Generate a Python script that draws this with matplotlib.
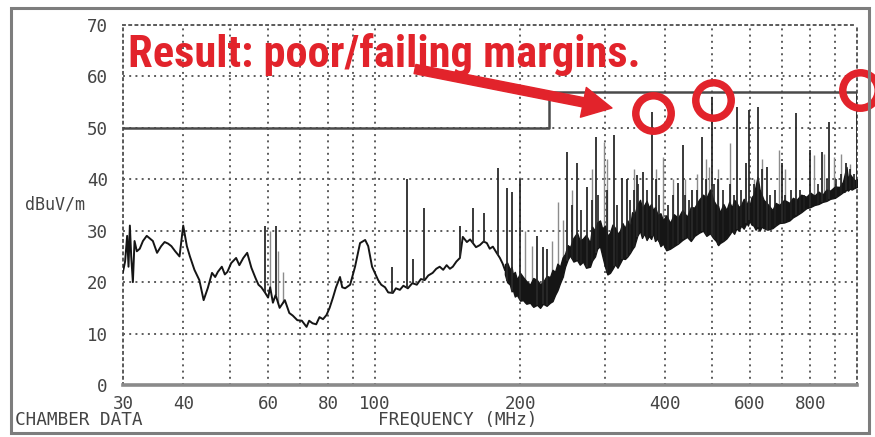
import numpy as np
import matplotlib
matplotlib.use("Agg")
import matplotlib.pyplot as plt
from matplotlib.patches import Rectangle
from matplotlib import font_manager

# ---- measured emission floor, 30-186 MHz (MHz, dBuV/m) ----
floor_mhz = [30.0, 30.3, 30.6, 30.8, 31.0, 31.2, 31.45, 31.7, 32.05, 32.5, 33.0, 33.6, 34.1, 34.6,
             35.3, 36.0, 36.6, 37.2, 37.8, 38.5, 39.3, 40.0, 40.7, 41.3, 42.2, 43.2, 44.1, 45.0,
             45.9, 46.6, 47.2, 48.1, 48.8, 49.4, 50.3, 51.5, 52.3, 53.3, 54.3, 55.4, 56.5, 57.3,
             58.1, 59.1, 60.0, 60.6, 61.4, 62.2, 63.4, 65.0, 66.4, 67.5, 69.0, 70.5, 72.1, 73.0,
             74.2, 75.5, 76.7, 78.0, 79.3, 80.5, 81.8, 83.0, 84.6, 85.5, 86.7, 88.8, 90.9, 93.1,
             95.4, 96.8, 98.6, 101.5, 103.0, 104.9, 106.5, 108.9, 110.5, 112.6, 114.5, 117.0,
             119.5, 122.1, 124.5, 126.8, 129.0, 131.7, 134.0, 136.2, 138.5, 140.8, 143.0, 145.0,
             147.5, 150.0, 152.1, 155.1, 157.5, 159.6, 162.0, 165.0, 168.0, 170.6, 173.0, 175.6,
             178.5, 181.6, 184.0, 186.0]
floor_db = [22, 24, 29, 23, 31, 25, 20, 28, 26, 26.5, 28, 29, 28.5, 28,
            25.7, 27, 27.8, 27.5, 27, 26, 25, 31, 27, 25, 22.4, 20.4, 16.5, 18.9,
            21.8, 21, 22, 23, 21.5, 22, 23.7, 24.7, 23.3, 24.7, 25.7, 22.8, 20.8, 19.5,
            19, 18, 17, 19, 16, 17.5, 15, 16.5, 14, 13.5, 12.6, 12.5, 11.3, 12.5,
            12, 11.8, 13.2, 12.8, 13.6, 15, 17, 19, 21, 19, 18.8, 19.5, 23, 27.6,
            28.2, 27, 23, 20.4, 19.5, 19, 18, 17.9, 18.8, 18.5, 19.3, 18.8,
            19.8, 19.5, 20.6, 20.4, 21.3, 21.8, 22.6, 23, 22.4, 23.3, 22.6, 23,
            24, 24.7, 28.8, 27.8, 28.3, 27.6, 26.8, 27.2, 27.9, 27.6, 26.5, 26.9,
            25.8, 24.7, 23.6, 22.4]

# ---- dense emission band, 186-1000 MHz: lower / upper edge of the trace ----
band_mhz = [186, 188, 190.5, 192, 193.2, 195, 197, 200, 202.8, 206, 209.7, 213, 216.8, 220,
            223.1, 227, 230.7, 233.5, 236.3, 239, 242, 245, 247.9, 251, 253.9, 258, 262.5,
            266, 270.1, 274, 279.3, 282, 286, 289, 292.9, 296, 300, 303.5, 307.2, 311, 315,
            318.5, 322.3, 326, 330, 334, 338.1, 341.5, 345, 350, 354.7, 358, 362, 366, 370,
            374, 377.4, 381, 386, 391, 395.8, 402, 409.4, 417, 425.3, 434, 444, 452, 460, 470,
            479.3, 487, 495.6, 503, 510, 515, 519.5, 528, 536, 543, 550, 556, 562.2, 568, 575,
            582, 589.7, 594, 598.3, 604, 610, 616, 621.7, 628, 634, 640, 652, 667.7, 678, 690,
            706, 724.1, 736, 748.8, 766, 785.4, 800, 816, 832, 847.9, 864, 880, 900, 919.7,
            935, 943, 950.9, 958, 966, 975, 987, 1000]
band_lo = [21.5, 20.0, 19.5, 18.2, 18.5, 17.2, 17.5, 16.4, 16.5, 15.8, 16.0, 15.2, 15.6, 15.0,
           15.8, 15.4, 16.0, 16.3, 17.5, 18.4, 19.8, 21.0, 23.0, 24.4, 25.2, 24.0, 24.3,
           23.4, 24.0, 22.8, 23.0, 24.2, 25.0, 26.5, 27.0, 25.2, 23.0, 21.5, 21.8, 22.6, 23.5,
           22.8, 23.7, 24.6, 24.5, 25.0, 25.7, 26.4, 27.0, 29.0, 30.0, 28.6, 29.5, 28.2, 29.0,
           28.4, 29.6, 28.0, 28.5, 27.0, 27.5, 26.2, 26.5, 27.0, 27.5, 28.2, 28.8, 28.0, 29.0, 29.6,
           30.0, 29.0, 29.5, 28.6, 28.0, 27.2, 27.6, 28.0, 28.5, 29.2, 30.0, 29.4, 30.5, 30.0, 31.0,
           30.4, 31.5, 31.0, 32.0, 31.2, 31.0, 30.2, 30.7, 30.0, 30.8, 30.5, 30.2, 30.5, 31.0, 31.5,
           31.6, 32.0, 32.6, 33.0, 33.6, 34.4, 34.6, 35.0, 35.2, 35.6, 35.8, 36.2, 36.4, 37.0,
           37.5, 37.6, 38.0, 37.8, 38.2, 38.0, 38.3, 38.5]
band_hi = [23.5, 23.8, 22.4, 23.0, 21.5, 22.0, 20.5, 21.8, 21.0, 20.2, 19.5, 20.8, 20.4, 19.6,
           20.0, 21.2, 21.0, 22.4, 22.0, 23.6, 23.0, 24.8, 25.5, 27.2, 26.8, 28.6, 29.6,
           28.0, 28.5, 29.2, 27.6, 30.8, 30.0, 31.6, 32.0, 30.4, 31.0, 29.0, 29.6, 31.2, 30.5,
           29.4, 30.0, 31.5, 30.5, 32.0, 30.7, 33.6, 33.0, 35.0, 36.0, 34.4, 35.0, 35.8, 34.5,
           35.2, 34.0, 34.6, 33.0, 33.4, 32.0, 33.0, 31.5, 33.2, 32.5, 34.0, 32.7, 34.6, 34.5, 36.0,
           37.0, 36.4, 38.0, 36.0, 35.0, 34.8, 33.5, 35.2, 34.0, 35.6, 34.5, 36.0, 35.5, 34.6, 35.0,
           36.2, 35.0, 35.8, 34.6, 36.5, 37.0, 38.6, 40.5, 38.0, 37.0, 36.0, 35.2, 34.0, 35.4, 35.0,
           36.0, 35.4, 36.4, 36.0, 37.0, 36.6, 37.4, 36.8, 37.6, 37.0, 38.0, 37.8, 38.6, 38.5,
           39.5, 41.0, 42.4, 40.0, 41.0, 40.5, 39.8, 40.0]

# ---- narrowband peaks (MHz, peak dBuV/m) ----
peak_mhz = [59.1, 62.2, 108.4, 116.4, 119.8, 126.2, 150.0, 159.6, 168.2, 179.9, 187.8, 192.3,
            199.9, 216.8, 223.1, 227.4, 250.3, 262.5, 275.3, 287.4, 313.2, 325.4, 333.3, 349.6,
            359.8, 375.6, 425.3, 435.6, 454.8, 477.0, 500.0, 564.9, 589.7, 598.3, 621.7, 651.9,
            700.3, 748.8, 800.0, 847.9, 876.7, 950.9, 1000.0]
peak_db = [31, 31, 23, 40, 24.5, 34.4, 31, 34.4, 33.5, 42.2, 38.3, 37.5,
           40, 29, 26.8, 26.5, 45.3, 43.2, 38.5, 48.2, 48.6, 40.3, 40, 40.9,
           41.4, 53.1, 39.3, 46.7, 38, 48.2, 56, 54.1, 43.2, 53.5, 54, 42.4,
           43.2, 52.9, 45.7, 45.3, 51.2, 43.2, 57]

# clustered emissions forming the dark mass above 250 MHz
cluster_mhz = [256, 268, 282, 290, 303, 318, 338, 344, 352, 366, 382, 388, 405, 415, 440, 448,
               465, 485, 505, 515, 528, 545, 555, 575, 610, 635, 660, 675, 710, 730, 760, 775,
               830, 865, 905, 925, 965, 985]
cluster_db = [35, 34, 36, 37, 38, 35, 36, 38, 39, 38, 40, 37, 35, 37, 37, 36,
              38, 40, 39, 40, 38, 39, 37, 38, 39, 42, 37, 38, 37, 38, 38, 37,
              39, 40, 40, 41, 42, 41]

# weaker, lighter-drawn emissions
faint_mhz = [60.6, 63.0, 64.5, 205, 212, 233, 239.7, 245, 256, 282, 298, 303, 344, 382, 395.8,
             415, 440, 465, 485, 493.2, 515, 545, 610, 635, 690.4, 710, 816.1, 856, 898, 925, 965]
faint_db = [30, 26, 22, 30, 27, 28, 35.6, 32, 38, 42, 47.3, 44, 42, 42, 44.4,
            40, 40, 41, 44, 42.4, 42, 47, 40, 44, 45.7, 42, 44.7, 45, 44.4, 45, 43]

# ---- limit line ----
limit_mhz = [30, 230, 230, 1000]
limit_db = [50, 50, 57, 57]

# ---- circled failing peaks ----
circle_mhz = [377, 502, 1014]
circle_db = [52.9, 55.4, 57.4]

# ---- axes ticks ----
y_ticks = [0, 10, 20, 30, 40, 50, 60, 70]
y_labels = ["0", "10", "20", "30", "40", "50", "60", "70"]
x_grid = [30, 40, 50, 60, 70, 80, 90, 100, 200, 300, 400, 500, 600, 700, 800, 900, 1000]
x_labels = ["30", "40", "", "60", "", "80", "", "100", "200", "", "400", "", "600", "", "800", "", ""]

RED = "#e2232b"
GRID = "#5c5c5c"
INK = "#151515"
TXT = "#444444"
W, H = 875, 437

# prefer a condensed bold face for the callout
installed = {f.name for f in font_manager.fontManager.ttflist}
narrow = [n for n in ("Roboto Condensed", "Liberation Sans Narrow", "Open Sans Condensed",
                      "Arial Narrow") if n in installed]
callout_family = narrow[0] if narrow else "Liberation Sans"

fig = plt.figure(figsize=(W / 100, H / 100), dpi=100)
fig.patch.set_facecolor("white")
ax = fig.add_axes([123 / W, 1 - 385 / H, (857 - 123) / W, (385 - 25) / H])

ax.set_xscale("log")
ax.set_xlim(30, 1000)
ax.set_ylim(0, 70)

dots = (0, (1, 2.2))
ax.minorticks_off()
ax.set_xticks(x_grid)
ax.set_xticklabels(x_labels)
ax.set_yticks(y_ticks)
ax.set_yticklabels(y_labels)
ax.grid(True, which="major", linestyle=dots, color=GRID, linewidth=1.4)
ax.tick_params(axis="both", length=0, labelsize=12.6, labelcolor=TXT)
ax.tick_params(axis="y", pad=11)
ax.tick_params(axis="x", pad=7)
for lab in ax.get_xticklabels() + ax.get_yticklabels():
    lab.set_family("DejaVu Sans Mono")

for side in ("left", "top", "right"):
    ax.spines[side].set_linestyle(dots)
    ax.spines[side].set_color(GRID)
    ax.spines[side].set_linewidth(1.4)
ax.spines["bottom"].set_color("#8a8a8a")
ax.spines["bottom"].set_linewidth(2.6)

# emission trace
lf = np.log10(floor_mhz)
lb = np.log10(band_mhz)
ax.plot(floor_mhz, floor_db, color=INK, lw=1.4, zorder=3)
ax.fill_between(band_mhz, band_lo, band_hi, color=INK, lw=1.0, edgecolor=INK, zorder=3)

# foot of each peak sits on the trace floor
prof_x = np.concatenate([lf, lb[1:]])
prof_y = np.concatenate([floor_db, band_lo[1:]])


def foot(freqs):
    return np.interp(np.log10(freqs), prof_x, prof_y)


ax.vlines(faint_mhz, foot(faint_mhz), faint_db, color="#8c8c8c", lw=1.0, zorder=2)
ax.vlines(cluster_mhz, foot(cluster_mhz), cluster_db, color="#202020", lw=1.2, zorder=3)
ax.vlines(peak_mhz, foot(peak_mhz), peak_db, color="#2a2a2a", lw=1.3, zorder=3)

# limit line
ax.plot(limit_mhz, limit_db, color="#4a4a4a", lw=1.8, zorder=4)

# circled peaks
ax.plot(circle_mhz, circle_db, linestyle="none", marker="o", markersize=25.5,
        markerfacecolor="none", markeredgecolor=RED, markeredgewidth=5.4,
        clip_on=False, zorder=6)

# axis captions
fig.text(25 / W, 1 - 205 / H, "dBuV/m", family="DejaVu Sans Mono", fontsize=12,
         color=TXT, ha="left", va="center")
fig.text(15 / W, 1 - 420 / H, "CHAMBER DATA", family="DejaVu Sans Mono", fontsize=12.8,
         color=TXT, ha="left", va="center")
fig.text(458 / W, 1 - 420 / H, "FREQUENCY (MHz)", family="DejaVu Sans Mono", fontsize=12.8,
         color=TXT, ha="center", va="center")

# callout, fitted to span 128..640 px
callout = fig.text(128 / W, 1 - 67 / H, "Result: poor/failing margins.",
                   family=callout_family, fontweight="bold",
                   fontsize=31, color=RED, ha="left", va="baseline", zorder=7)
fig.canvas.draw()
span = callout.get_window_extent(fig.canvas.get_renderer()).width
callout.set_fontsize(31 * 512 / span)

ax.annotate("", xy=(612, H - 108), xytext=(415, H - 69),
            xycoords="figure pixels", textcoords="figure pixels",
            arrowprops=dict(arrowstyle="simple,head_length=0.75,head_width=0.78,tail_width=0.24",
                            mutation_scale=28, color=RED, shrinkA=0, shrinkB=0),
            zorder=7)

# outer frame
fig.patches.append(Rectangle((11 / W, 1 - 433 / H), (869 - 11) / W, (433 - 8) / H,
                             transform=fig.transFigure, fill=False,
                             edgecolor="#7d7d7d", linewidth=2.2))

fig.savefig("out.png", dpi=100)
